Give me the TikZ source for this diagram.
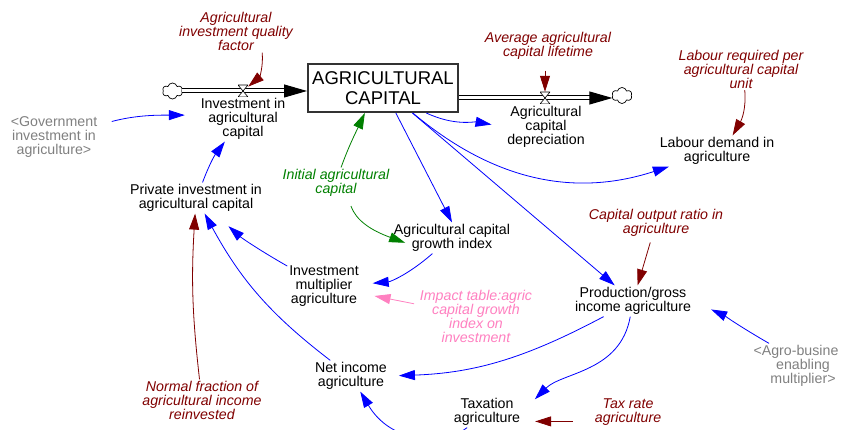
\documentclass[tikz,border=0pt]{standalone}
\usepackage{fontspec}
\setmainfont{Liberation Sans}
\usetikzlibrary{arrows.meta,shapes.symbols}
\definecolor{auxred}{HTML}{800000}
\definecolor{auxgreen}{HTML}{008000}
\definecolor{auxpink}{HTML}{FF80C0}
\tikzset{
	varname/.style={align=center,inner sep=0pt,outer sep=2pt,font=\fontsize{14.2}{14}\selectfont},
	constred/.style={varname,text=auxred,font=\fontsize{14.2}{14}\selectfont\itshape},
	shadowvar/.style={varname,text=gray},
	link/.style={blue,line width=0.8pt,-{Triangle[length=16pt,width=10pt]}},
	redlink/.style={link,auxred},
	flowpipe/.style={double,double distance=3pt,line width=1pt,-{Triangle[length=23pt,width=13pt]}},
	sourcecloud/.style={cloud,cloud puffs=6,cloud puff arc=150,aspect=1.3,draw,fill=white,minimum width=20pt,minimum height=16pt,inner sep=0pt,line width=0.7pt},
	valve/.style={minimum width=10pt,minimum height=12pt,inner sep=0pt,path picture={
		\draw[line width=0.6pt,fill=white] (path picture bounding box.north west) -- (path picture bounding box.north east)
			-- (path picture bounding box.south west) -- (path picture bounding box.south east) -- cycle;}}
}
\begin{document}
\begin{tikzpicture}[x=1pt,y=1pt]
	\useasboundingbox (0,0) rectangle (842,430);
	\clip (0,0) rectangle (842,430);
	\node[draw=black!80,line width=2pt,minimum width=150pt,minimum height=48pt,inner sep=0pt,align=center,
		font=\fontsize{18.5}{20}\selectfont] (capital) at (383,342) {AGRICULTURAL\\CAPITAL}; %stock
	\node[sourcecloud] (cloudin) at (172.5,339) {}; %clouds
	\node[sourcecloud] (cloudout) at (622,334.5) {};
	\node[varname] (investment) at (243,311) {Investment in\\agricultural\\capital}; %rates
	\node[varname] (depreciation) at (546,303) {Agricultural\\capital\\depreciation};
	\node[varname] (labour) at (717,279) {Labour demand in\\agriculture}; %variables
	\node[varname] (private) at (196,232) {Private investment in\\agricultural capital};
	\node[varname] (growth) at (452,192) {Agricultural capital\\growth index};
	\node[varname] (multiplier) at (324,144) {Investment\\multiplier\\agriculture};
	\node[varname] (production) at (633,129) {Production/gross\\income agriculture};
	\node[varname] (netincome) at (351,54) {Net income\\agriculture};
	\node[varname] (taxation) at (487,18) {Taxation\\agriculture};
	\node[constred] (quality) at (236,398.5) {Agricultural\\investment quality\\factor}; %constants
	\node[constred] (lifetime) at (548,384) {Average agricultural\\capital lifetime};
	\node[constred] (labourreq) at (741,361) {Labour required per\\agricultural capital\\unit};
	\node[constred] (ratio) at (656,207) {Capital output ratio in\\agriculture};
	\node[constred] (fraction) at (202,29.5) {Normal fraction of\\agricultural income\\reinvested};
	\node[constred] (taxrate) at (628,18) {Tax rate\\agriculture};
	\node[varname,text=auxgreen,font=\fontsize{14.2}{14}\selectfont\itshape] (initial) at (336,247) {Initial agricultural\\capital};
	\node[varname,text=auxpink,font=\fontsize{14.2}{14}\selectfont\itshape] (impact) at (476,114) {Impact table:agric\\capital growth\\index on\\investment};
	\node[shadowvar] (government) at (54,293) {<Government\\investment in\\agriculture>};
	\node[shadowvar] (agro) at (796,64) {<Agro-busine\\\hspace*{14pt}enabling\\\hspace*{14pt}multiplier>};
	\draw[flowpipe] (cloudin.east) -- (cloudin.east -| capital.west); %flows
	\node[valve] (valvein) at (243,339) {};
	\draw[flowpipe] (capital.east |- cloudout.west) ++(0,-2.5) coordinate (pipestart) -- (pipestart -| cloudout.west);
	\node[valve] (valveout) at (545,332) {};
	\draw[link,shorten <=13pt,shorten >=14pt] (government.15) to[out=15,in=180] (investment.175); %blue links
	\draw[link] (private) to[bend left=8] (investment);
	\draw[link,shorten >=14pt] (capital.-30) to[out=-25,in=170] (depreciation.west);
	\draw[link] (capital.-40) to[out=-40,in=198] (labour.198);
	\draw[link] (capital) -- (growth.north);
	\draw[link] (capital) -- (production);
	\draw[link,shorten >=12pt] (growth) to[bend left=18] (multiplier);
	\draw[link,shorten >=19pt] (multiplier) to[bend left=6] (private);
	\draw[link] (netincome) to[bend left=12] (private);
	\draw[link,shorten >=10pt] (production.-152) to[out=-152,in=2] (netincome.east);
	\draw[link,shorten >=18pt] (production.-100) to[out=-100,in=45] (taxation.east);
	\draw[link,shorten >=20pt] (agro.140) to[out=150,in=-25] (production.east);
	\draw[link] (taxation) .. controls (445,-15) and (392,-15) .. (netincome);
	\draw[link,auxpink,shorten <=4pt,shorten >=14pt] (impact) -- (multiplier);
	\draw[redlink] (quality.-39) to[out=-85,in=40] (valvein.40); %red links
	\draw[redlink,shorten <=9pt] (lifetime.south -| valveout) -- (valveout);
	\draw[redlink] (labourreq.-80) to[out=-85,in=60] (labour.45);
	\draw[redlink,shorten <=4pt] (ratio) -- (production);
	\draw[redlink] (fraction) to[bend left=5] (private);
	\draw[redlink,shorten <=20pt,shorten >=13pt] (taxrate.195) -- (taxation.-15);
	\draw[link,auxgreen] (initial.72) to[out=70,in=-115] (capital.-126); %green links
	\draw[link,auxgreen,shorten <=8pt,shorten >=-14pt] (initial.-52) to[out=-70,in=160] (growth.west);
\end{tikzpicture}
\end{document}
